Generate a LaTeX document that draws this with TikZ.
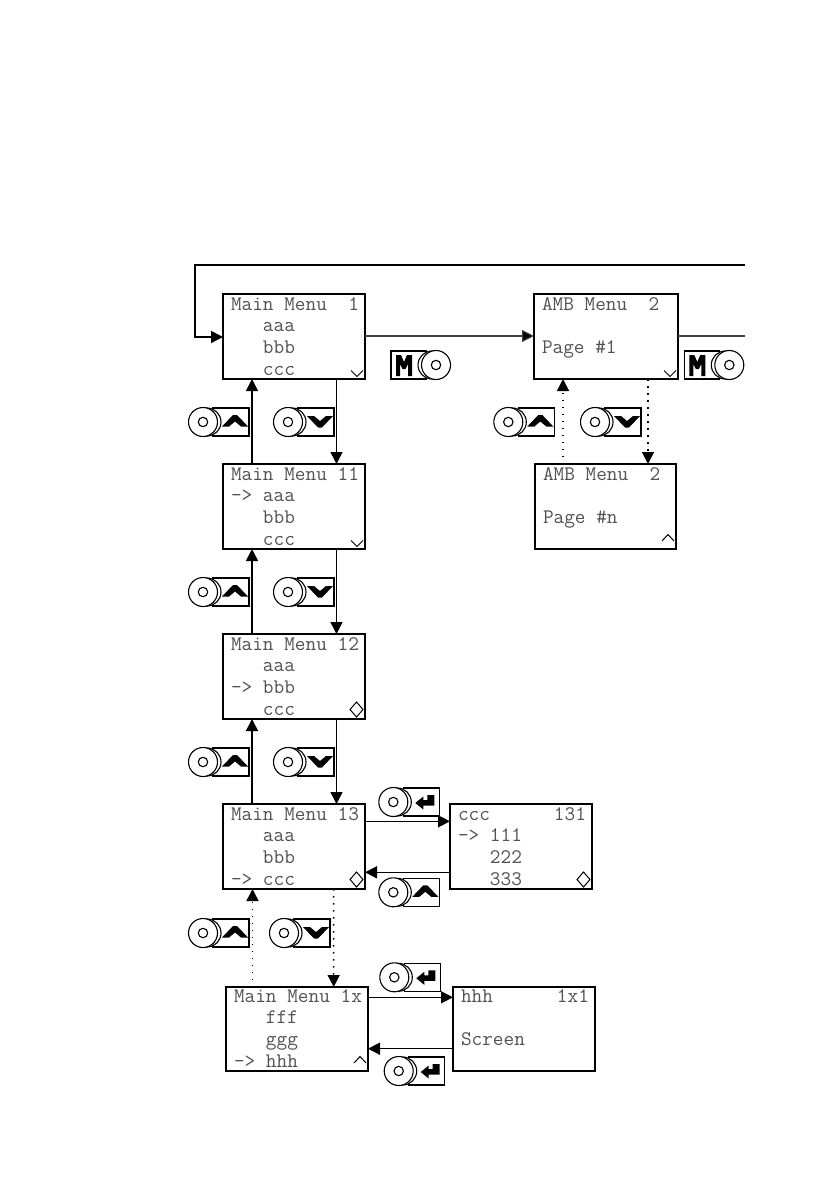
\documentclass[tikz,border=0pt]{standalone}
\usetikzlibrary{arrows.meta,calc}
\tikzset{
  lcdbox/.style={draw=black,line width=1.3pt,fill=white,rectangle,inner sep=0pt,outer sep=0pt,anchor=north west},
  lcdtext/.style={anchor=base west,inner sep=0pt,outer sep=0pt,text=black!68,font=\ttfamily\fontsize{20.7}{24}\selectfont},
  conn/.style={line width=1.5pt,draw=black,-{Triangle[length=12pt,width=12pt]}},
  thinconn/.style={line width=1.1pt,draw=black!75,-{Triangle[length=12pt,width=12pt,fill=black]}},
  dotconn/.style={conn,dash pattern=on 1.5pt off 5.5pt},
  thinline/.style={line width=1.1pt,draw=black!75},
  keyline/.style={line width=1.1pt,draw=black,fill=white},
  keyglyph/.style={fill=black,draw=none},
}
% box name, text name, baseline offset, text
\newcommand\lcdline[4]{\if\relax\detokenize{#4}\relax\else
  \node[lcdtext] (#2) at ([xshift=8pt,yshift=-#3]#1box.north west) {#4};\fi}
% name, corner, width, height, first baseline, four lines
\newcommand\lcd[9]{%
  \node[lcdbox,minimum width=#3pt,minimum height=#4pt] (#1box) at (#2) {};
  \lcdline{#1}{#1t1}{#5pt}{#6}%
  \lcdline{#1}{#1t2}{#5pt-21.7pt}{#7}%
  \lcdline{#1}{#1t3}{#5pt-43pt}{#8}%
  \lcdline{#1}{#1t4}{#5pt-65pt}{#9}%
}
\newcommand\markdn[1]{\draw[line width=1pt] ([xshift=-14pt,yshift=8.5pt]#1box.south east) -- ([xshift=-8pt,yshift=2.5pt]#1box.south east) -- ([xshift=-2pt,yshift=8.5pt]#1box.south east);}
\newcommand\markup[1]{\draw[line width=1pt] ([xshift=-14pt,yshift=8pt]#1box.south east) -- ([xshift=-8pt,yshift=14.5pt]#1box.south east) -- ([xshift=-2pt,yshift=8pt]#1box.south east);}
\newcommand\markdia[1]{\draw[line width=1pt] ([xshift=-8.5pt,yshift=17pt]#1box.south east) -- ([xshift=-2pt,yshift=9.5pt]#1box.south east) -- ([xshift=-8.5pt,yshift=2pt]#1box.south east) -- ([xshift=-15pt,yshift=9.5pt]#1box.south east) -- cycle;}
% key with the wheel on the left
\newcommand\keywheel[1]{%
  \begin{scope}[shift={(#1)}]
    \draw[keyline] (10,-14) rectangle (46,14);
    \draw[keyline] (4,0) circle[radius=14pt];
    \draw[keyline] (0,0) circle[radius=14.5pt];
    \draw[keyline] (0,0) circle[radius=4.7pt];
  \end{scope}}
\newcommand\keyup[1]{\keywheel{#1}
  \fill[keyglyph,shift={(#1)}] (19,4.5) -- (30,-7) -- (34,-7) -- (45,4.5) -- (38,4.5) -- (32,-0.5) -- (26,4.5) -- cycle;}
\newcommand\keydn[1]{\keywheel{#1}
  \fill[keyglyph,shift={(#1)}] (19,-6) -- (26,-6) -- (32,-1) -- (38,-6) -- (45,-6) -- (34,5.5) -- (30,5.5) -- cycle;}
\newcommand\keyent[1]{\keywheel{#1}
  \fill[keyglyph,shift={(#1)}] (22,1) -- (30,-5.5) -- (30,-2) -- (34,-2) -- (34,-7) -- (41,-7) -- (41,3.5) -- (30,3.5) -- (30,7.5) -- cycle;}
\newcommand\keym[1]{%
  \begin{scope}[shift={(#1)}]
    \draw[keyline] (-45,-14) rectangle (-10,14);
    \draw[keyline] (-4,0) circle[radius=14pt];
    \draw[keyline] (0,0) circle[radius=14.5pt];
    \draw[keyline] (0,0) circle[radius=4.7pt];
    \fill[keyglyph] (-40,11) -- (-40,-10) -- (-35,-10) -- (-32,-3) -- (-29,-10) -- (-24,-10) -- (-24,11) -- (-28,11) -- (-28,-1) -- (-30.5,4) -- (-33.5,4) -- (-36,-1) -- (-36,11) -- cycle;
  \end{scope}}
\begin{document}
\begin{tikzpicture}[x=1pt,y=-1pt]
\useasboundingbox (0,0) rectangle (839,1190);
\fill[white] (0,0) rectangle (839,1190);

\lcd{ma}{223,294}{142}{85}{16}{Main Menu~~1}{~~~aaa}{~~~bbb}{~~~ccc}
\lcd{mb}{223,464}{142}{85}{16}{Main Menu~11}{->~aaa}{~~~bbb}{~~~ccc}
\lcd{mc}{223,634}{142}{85}{16}{Main Menu~12}{~~~aaa}{->~bbb}{~~~ccc}
\lcd{md}{223,804}{142}{85}{16}{Main Menu~13}{~~~aaa}{~~~bbb}{->~ccc}
\lcd{me}{226,987}{142}{84}{15}{Main Menu~1x}{~~~fff}{~~~ggg}{->~hhh}
\lcd{aa}{534,294}{144}{85}{16}{AMB Menu~~2}{}{Page \#1}{}
\lcd{ab}{535,464}{141}{85}{16}{AMB Menu~~2}{}{Page \#n}{}
\lcd{ca}{450,804}{142}{85}{16}{ccc~~~~~~131}{->~111}{~~~222}{~~~333}
\lcd{ha}{453,987}{142}{84}{15}{hhh~~~~~~1x1}{}{Screen}{}

\markdn{ma}\markdn{mb}\markdn{aa}
\markdia{mc}\markdia{md}\markdia{ca}
\markup{me}\markup{ab}

% outer loop
\coordinate (loopend) at (745,265);
\coordinate (aaout) at (745,336);
\draw[conn] (loopend) -- (195,265) -- (195,337) -- (mabox.west |- 0,337);
\draw[thinconn] (mabox.east |- 0,336) -- (aabox.west |- 0,336);
\draw[thinline] (aabox.east |- 0,336) -- (aaout);

% main column
\foreach \lo/\hi in {mb/ma,mc/mb,md/mc}{
  \draw[conn] ([xshift=29pt]\lo box.north west) -- ([xshift=29pt]\hi box.south west);
  \draw[conn] ([xshift=113.5pt]\hi box.south west) -- ([xshift=113.5pt]\lo box.north west);
}
\draw[dotconn] ([xshift=26.5pt]mebox.north west) -- ([xshift=29.5pt]mdbox.south west);
\draw[dotconn] ([xshift=110.5pt]mdbox.south west) -- ([xshift=107.7pt]mebox.north west);

% AMB column
\draw[dotconn] ([xshift=28pt]abbox.north west) -- ([xshift=29pt]aabox.south west);
\draw[dotconn] ([xshift=114pt]aabox.south west) -- ([xshift=113pt]abbox.north west);

% sub menus
\draw[conn] (mdbox.east |- 0,821.3) -- (cabox.west |- 0,821.3);
\draw[conn] (cabox.west |- 0,872.3) -- (mdbox.east |- 0,872.3);
\draw[conn] (mebox.east |- 0,997.3) -- (habox.west |- 0,997.3);
\draw[conn] (habox.west |- 0,1048.7) -- (mebox.east |- 0,1048.7);

% keys
\keyup{203,422}\keydn{288,422}
\keyup{203,592}\keydn{288,592}
\keyup{203,762}\keydn{288,762}
\keyup{203,933}\keydn{284,933}
\keyup{508.3,422}\keydn{595,422}
\keym{436,365}
\keym{729.3,365}
\keyent{393.3,802}
\keyup{393.3,892.3}
\keyent{394.3,977.3}
\keyent{398.7,1071}
\end{tikzpicture}
\end{document}
